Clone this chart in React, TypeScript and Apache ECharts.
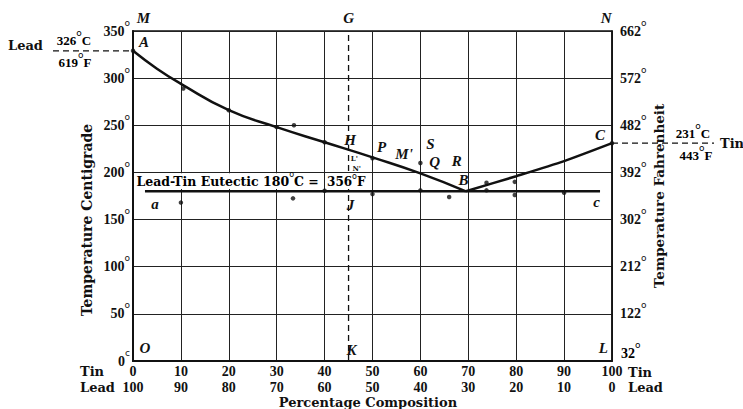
import React, { useEffect, useRef } from 'react';
import * as echarts from 'echarts';

// ---- axis ticks ----
const tinTicks = [0, 10, 20, 30, 40, 50, 60, 70, 80, 90, 100];
const leadTicks = [100, 90, 80, 70, 60, 50, 40, 30, 20, 10, 0];
const celsiusTicks = [0, 50, 100, 150, 200, 250, 300, 350];
const fahrenheitTicks = [32, 122, 212, 302, 392, 482, 572, 662];

// ---- liquidus curve ----
const leftBranchTin = [0, 5, 10, 20, 30, 40, 50, 60, 69.5];
const leftBranchTemp = [329, 310, 294, 266, 248, 232, 216, 199, 180];
const rightBranchTin = [69.5, 80, 90, 100];
const rightBranchTemp = [180, 196, 212, 231];

// ---- eutectic (solidus) line ----
const eutecticTin = [2.5, 97.5];
const eutecticTemp = 180;

// ---- vertical section G-K ----
const sectionTin = 45;
const sectionTemp = [0, 350];

// ---- observed points ----
const obsTin = [0, 10.5, 20, 30, 33.6, 40, 50, 60, 73.8, 79.7, 10, 33.4, 40, 50, 60, 66, 73.8, 79.7, 90, 100];
const obsTemp = [329, 289, 266, 248, 250, 232, 215, 210, 189, 190, 168, 172.5, 180.5, 177, 181, 174, 181, 176, 178.5, 231];

// ---- letter annotations ----
const letterText = ['M', 'G', 'N', 'A', 'H', 'P', "M'", 'S', 'Q', 'R', 'B', 'C', 'a', 'c', 'J', 'K', 'O', 'L'];
const letterTin = [2.2, 45, 98.8, 2.3, 45.3, 51.9, 56.6, 62.1, 63, 67.6, 69, 97.5, 4.6, 96.8, 45.4, 45.6, 2.5, 98.2];
const letterTemp = [364, 364, 364, 338, 234, 227, 219.5, 230, 211, 212, 192, 240, 167, 169, 165.5, 11.7, 13.5, 13.5];

const smallText = ["L'", "N'"];
const smallTin = [46.2, 46.7];
const smallTemp = [215, 204.5];

// ---- melting points ----
const leadMeltC = 326;
const leadMeltF = 619;
const leadLineTemp = 329; // where the printed dashed line sits
const tinMeltC = 231;
const tinMeltF = 443;
const eutecticF = 356;

const WORD = "'DejaVu Serif', serif";
const DIGIT = "'Liberation Serif', serif";
const INK = '#111';

const degRich = (size: number, lh: number) => ({
  n: { fontFamily: DIGIT, fontWeight: 'bold', fontSize: size, color: INK, lineHeight: lh },
  d: { fontFamily: "'DejaVu Sans', sans-serif", fontSize: 9, color: INK, verticalAlign: 'top', lineHeight: 9 },
});

export default function App() {
  const ref = useRef<HTMLDivElement>(null);

  useEffect(() => {
    const chart = echarts.init(ref.current!, null, { renderer: 'svg' });

    const option: any = {
      animation: false,
      backgroundColor: '#fff',
      grid: { left: 133, right: 131, top: 31, bottom: 48, show: true, borderColor: INK, borderWidth: 1.5, containLabel: false },
      xAxis: {
        type: 'value', min: 0, max: 100, interval: 10,
        axisLine: { show: true, lineStyle: { color: INK, width: 2 } },
        axisTick: { show: false },
        splitLine: { show: true, lineStyle: { color: '#222', width: 1 } },
        axisLabel: {
          showMinLabel: true, showMaxLabel: true, margin: 2,
          formatter: (v: number) => {
            const i = tinTicks.indexOf(v);
            return `{a|${tinTicks[i]}}\n{a|${leadTicks[i]}}`;
          },
          rich: { a: { fontFamily: DIGIT, fontWeight: 'bold', fontSize: 14, color: INK, lineHeight: 16 } },
        },
      },
      yAxis: [
        {
          type: 'value', min: 0, max: 350, interval: 50, position: 'left',
          axisLine: { show: true, lineStyle: { color: INK, width: 2 } },
          axisTick: { show: false },
          splitLine: { show: true, lineStyle: { color: '#222', width: 1 } },
          axisLabel: {
            showMinLabel: true, showMaxLabel: true, margin: 3,
            formatter: (v: number) => (v === 0 ? `{n|${v}}{d|c}` : `{n|${v}}{d|o}`),
            rich: degRich(14, 26),
          },
        },
        {
          type: 'value', min: 0, max: 350, interval: 50, position: 'right',
          axisLine: { show: true, lineStyle: { color: INK, width: 1.5 } },
          axisTick: { show: false },
          splitLine: { show: false },
          axisLabel: {
            showMinLabel: true, showMaxLabel: true, margin: 8,
            formatter: (v: number) => (v === 0 ? '' : `{n|${fahrenheitTicks[celsiusTicks.indexOf(v)]}}{d|o}`),
            rich: degRich(14, 26),
          },
        },
      ],
      series: [
        {
          type: 'line', name: 'liquidus-lead', smooth: 0.5, symbol: 'none',
          lineStyle: { color: INK, width: 2.5 },
          data: leftBranchTin.map((x, i) => [x, leftBranchTemp[i]]),
          z: 5,
        },
        {
          type: 'line', name: 'liquidus-tin', smooth: 0.25, symbol: 'none',
          lineStyle: { color: INK, width: 2.5 },
          data: rightBranchTin.map((x, i) => [x, rightBranchTemp[i]]),
          z: 5,
        },
        {
          type: 'line', name: 'eutectic', symbol: 'none',
          lineStyle: { color: INK, width: 2.5 },
          data: eutecticTin.map((x) => [x, eutecticTemp]),
          z: 5,
        },
        {
          type: 'line', name: 'section', symbol: 'none',
          lineStyle: { color: INK, width: 1.3, type: [6, 4] },
          data: sectionTemp.map((t) => [sectionTin, t]),
          z: 4,
        },
        {
          type: 'scatter', name: 'observations', symbolSize: 4.5,
          itemStyle: { color: INK },
          data: obsTin.map((x, i) => [x, obsTemp[i]]),
          z: 6,
        },
      ],
    };

    chart.setOption(option);

    const P = (x: number, y: number) => chart.convertToPixel({ gridIndex: 0 }, [x, y]) as number[];
    const gridLeft = 133;
    const gridRight = 612;

    const graphics: any[] = [];

    // letters
    letterText.forEach((t, i) => {
      const [px, py] = P(letterTin[i], letterTemp[i]);
      graphics.push({
        type: 'text', x: px, y: py, z: 100,
        style: { text: t, font: "italic bold 15px 'Liberation Serif', serif", fill: INK, textAlign: 'center', textVerticalAlign: 'middle' },
      });
    });
    smallText.forEach((t, i) => {
      const [px, py] = P(smallTin[i], smallTemp[i]);
      graphics.push({
        type: 'text', x: px, y: py, z: 100,
        style: { text: t, font: `bold 7px ${WORD}`, fill: INK, textAlign: 'center', textVerticalAlign: 'middle' },
      });
    });

    // eutectic label boxes
    const [b1x0, b1y0] = P(0.3, 199.2);
    const [b1x1, b1y1] = P(39.7, 182.3);
    graphics.push({ type: 'rect', z: 90, shape: { x: b1x0, y: b1y0, width: b1x1 - b1x0, height: b1y1 - b1y0 }, style: { fill: '#fff' } });
    const [b2x0] = P(40.3, 199.2);
    const [b2x1] = P(49.6, 182.3);
    graphics.push({ type: 'rect', z: 90, shape: { x: b2x0, y: b1y0, width: b2x1 - b2x0, height: b1y1 - b1y0 }, style: { fill: '#fff' } });
    const labelY = (b1y0 + b1y1) / 2 + 0.5;
    graphics.push({
      type: 'text', x: b1x0 + 2, y: labelY, z: 100,
      style: {
        text: `{w|Lead-Tin Eutectic ${eutecticTemp}}{d|o}{w|C =}`,
        textAlign: 'left', textVerticalAlign: 'middle',
        rich: {
          w: { fontFamily: WORD, fontWeight: 'bold', fontSize: 12.5, color: INK, lineHeight: 22 },
          d: { fontFamily: "'DejaVu Sans', sans-serif", fontSize: 8, color: INK, verticalAlign: 'top', lineHeight: 8 },
        },
      },
    });
    graphics.push({
      type: 'text', x: b2x0 + 1, y: labelY, z: 100,
      style: {
        text: `{w|${eutecticF}}{d|o}{w|F}`,
        textAlign: 'left', textVerticalAlign: 'middle',
        rich: {
          w: { fontFamily: WORD, fontWeight: 'bold', fontSize: 12, color: INK, lineHeight: 18 },
          d: { fontFamily: "'DejaVu Sans', sans-serif", fontSize: 8, color: INK, verticalAlign: 'top', lineHeight: 8 },
        },
      },
    });

    // lead melting point (left)
    const [, yLead] = P(0, leadLineTemp);
    graphics.push({ type: 'line', z: 100, shape: { x1: 53, y1: yLead, x2: gridLeft, y2: yLead }, style: { stroke: INK, lineWidth: 1.3, lineDash: [6, 4] } });
    graphics.push({ type: 'text', x: 8, y: yLead - 5, z: 100, style: { text: 'Lead', font: `bold 13px ${WORD}`, fill: INK, textAlign: 'left', textVerticalAlign: 'middle' } });
    const meltRich = {
      n: { fontFamily: DIGIT, fontWeight: 'bold', fontSize: 13, color: INK, lineHeight: 24 },
      d: { fontFamily: "'DejaVu Sans', sans-serif", fontSize: 9, color: INK, verticalAlign: 'top', lineHeight: 9 },
    };
    graphics.push({ type: 'text', x: 74, y: yLead - 10, z: 100, style: { text: `{n|${leadMeltC}}{d|o}{n|C}`, textAlign: 'center', textVerticalAlign: 'middle', rich: meltRich } });
    graphics.push({ type: 'text', x: 75, y: yLead + 12, z: 100, style: { text: `{n|${leadMeltF}}{d|o}{n|F}`, textAlign: 'center', textVerticalAlign: 'middle', rich: meltRich } });

    // tin melting point (right)
    const [, yTin] = P(100, tinMeltC);
    graphics.push({ type: 'line', z: 100, shape: { x1: gridRight, y1: yTin, x2: 714, y2: yTin }, style: { stroke: INK, lineWidth: 1.3, lineDash: [6, 4] } });
    graphics.push({ type: 'text', x: 693, y: yTin - 10, z: 101, style: { text: `{n|${tinMeltC}}{d|o}{n|C}`, textAlign: 'center', textVerticalAlign: 'middle', rich: meltRich } });
    graphics.push({ type: 'text', x: 696, y: yTin + 12, z: 101, style: { text: `{n|${tinMeltF}}{d|o}{n|F}`, textAlign: 'center', textVerticalAlign: 'middle', rich: meltRich } });
    graphics.push({ type: 'text', x: 720, y: yTin, z: 100, style: { text: 'Tin', font: `bold 13px ${WORD}`, fill: INK, textAlign: 'left', textVerticalAlign: 'middle' } });

    // right-axis lowest label (printed raised above the axis corner)
    const [, yZero] = P(100, 0);
    graphics.push({ type: 'text', x: gridRight + 9, y: yZero - 8, z: 100, style: { text: `{n|${fahrenheitTicks[0]}}{d|o}`, textAlign: 'left', textVerticalAlign: 'middle', rich: degRich(14, 26) } });

    // axis titles and row names
    graphics.push({ type: 'text', x: 87, y: 220, rotation: Math.PI / 2, z: 100, style: { text: 'Temperature Centigrade', font: `bold 14px ${WORD}`, fill: INK, textAlign: 'center', textVerticalAlign: 'middle' } });
    graphics.push({ type: 'text', x: 659, y: 196, rotation: Math.PI / 2, z: 100, style: { text: 'Temperature Fahrenheit', font: `bold 13.5px ${WORD}`, fill: INK, textAlign: 'center', textVerticalAlign: 'middle' } });
    graphics.push({ type: 'text', x: 368, y: 402, z: 100, style: { text: 'Percentage Composition', font: `bold 13px ${WORD}`, fill: INK, textAlign: 'center', textVerticalAlign: 'middle' } });
    graphics.push({ type: 'text', x: 80, y: 371, z: 100, style: { text: 'Tin', font: `bold 13px ${WORD}`, fill: INK, textAlign: 'left', textVerticalAlign: 'middle' } });
    graphics.push({ type: 'text', x: 80, y: 387, z: 100, style: { text: 'Lead', font: `bold 13px ${WORD}`, fill: INK, textAlign: 'left', textVerticalAlign: 'middle' } });
    graphics.push({ type: 'text', x: 628, y: 372, z: 100, style: { text: 'Tin', font: `bold 13px ${WORD}`, fill: INK, textAlign: 'left', textVerticalAlign: 'middle' } });
    graphics.push({ type: 'text', x: 628, y: 387, z: 100, style: { text: 'Lead', font: `bold 13px ${WORD}`, fill: INK, textAlign: 'left', textVerticalAlign: 'middle' } });

    chart.setOption({ graphic: graphics });

    return () => chart.dispose();
  }, []);

  return <div ref={ref} style={{ position: 'fixed', left: 0, top: 0, width: 743, height: 409, background: '#fff' }} />;
}
